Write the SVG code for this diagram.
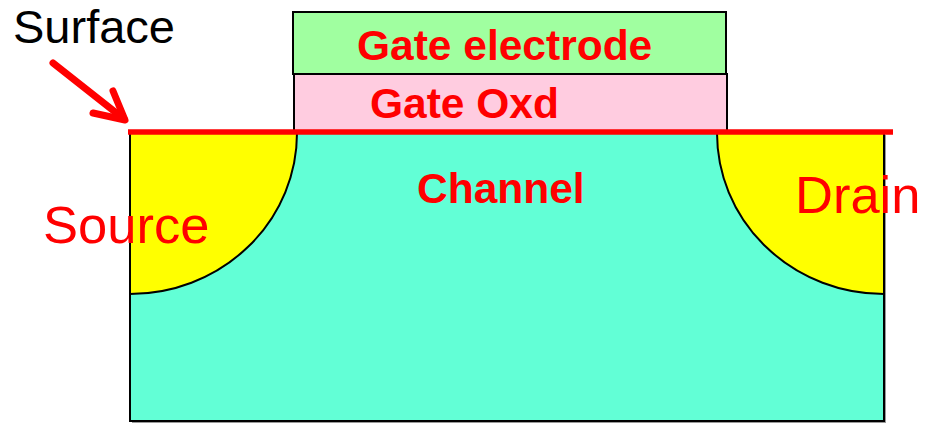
<svg xmlns="http://www.w3.org/2000/svg" width="925" height="424" viewBox="0 0 925 424">
  <style>
    .outline { stroke: #000; stroke-width: 2; }
    .lbl { font-family: "Liberation Sans", Arial, sans-serif; fill: #FF0000; }
    .bold { font-weight: bold; font-size: 42.5px; }
    .reg { font-size: 52.5px; }
  </style>
  <rect width="925" height="424" fill="#FFFFFF"/>
  <g id="substrate">
    <rect x="132" y="135" width="754" height="288" fill="#999999"/>
    <rect x="130" y="133" width="754" height="288" fill="#62FFD6" class="outline"/>
  </g>
  <g id="source">
    <path d="M130,133 L297,133 A167,161 0 0 1 130,294 Z" fill="#FFFF00" class="outline"/>
    <text class="lbl reg" x="43" y="243">Source</text>
  </g>
  <g id="drain">
    <path d="M884,133 L717,133 A167,161 0 0 0 884,294 Z" fill="#FFFF00" class="outline"/>
    <text class="lbl reg" x="795" y="213">Drain</text>
  </g>
  <g id="channel">
    <text class="lbl bold" x="417" y="203">Channel</text>
  </g>
  <g id="gate-oxide">
    <rect x="294" y="74" width="433" height="58" fill="#FFCCE0" class="outline"/>
    <text class="lbl bold" x="370" y="118">Gate Oxd</text>
  </g>
  <g id="gate-electrode">
    <rect x="293" y="12" width="433" height="62" fill="#A0FFA0" class="outline"/>
    <text class="lbl bold" x="357" y="60">Gate electrode</text>
  </g>
  <g id="surface">
    <line x1="128" y1="132" x2="893" y2="132" stroke="#FF0000" stroke-width="5.5"/>
    <text x="13" y="43" font-family="Liberation Sans, Arial, sans-serif" font-size="47" fill="#000000">Surface</text>
  </g>
  <g id="connectors" stroke="#FF0000" stroke-width="7" stroke-linecap="round" stroke-linejoin="round" fill="none">
    <line x1="53" y1="63" x2="124" y2="119"/>
    <polyline points="113,91 125,120 93,113"/>
  </g>
</svg>
